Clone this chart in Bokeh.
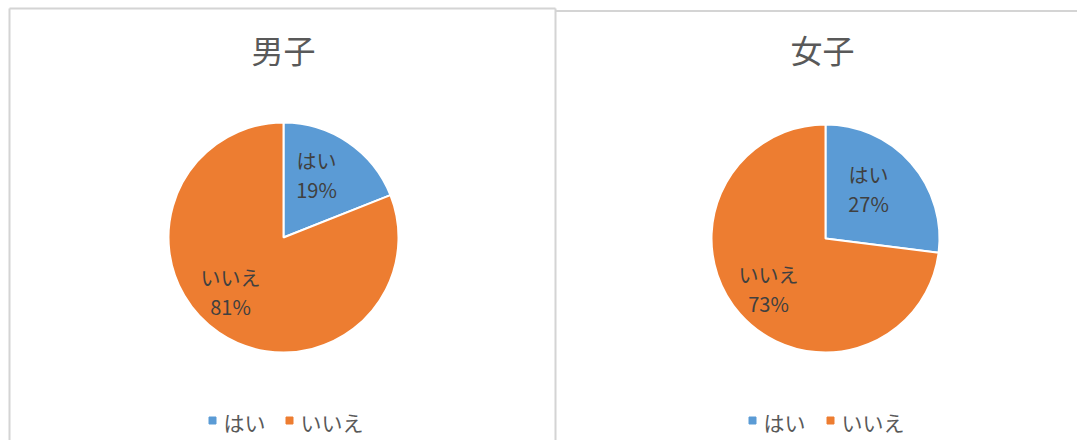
import math
from bokeh.plotting import figure
from bokeh.models import Range1d
from bokeh.core.properties import value
from bokeh.embed import file_html
from bokeh.resources import INLINE

# ---- data ----
groups = ["男子", "女子"]
categories = ["はい", "いいえ"]
male_pct = [19, 81]
female_pct = [27, 73]
colors = ["#5B9BD5", "#ED7D31"]

# ---- layout (picture pixel coordinates) ----
W, H = 1077, 440
FONT = value("Noto Sans CJK JP")


def px(X):
    return X


def py(Y):
    return H - Y


panels = [
    dict(title=groups[0], vals=male_pct, cx=283, cy=237, r=115, title_x=283,
         label_off=[(33, -63), (-53, 54)], leg_x=[212, 289]),
    dict(title=groups[1], vals=female_pct, cx=825, cy=238, r=114, title_x=822,
         label_off=[(43, -50), (-57, 50)], leg_x=[752, 830]),
]

p = figure(width=W, height=H, output_backend="svg", toolbar_location=None,
           x_range=Range1d(0, W), y_range=Range1d(0, H),
           x_axis_type=None, y_axis_type=None, min_border=0)
p.outline_line_color = None
p.grid.visible = False
p.background_fill_color = "white"
p.border_fill_color = "white"

# panel frames
border = "#D4D4D4"
p.segment(x0=[px(9), px(9), px(555), px(555)], y0=[py(8), py(8), py(8), py(10.5)],
          x1=[px(555), px(9), px(555), px(1090)], y1=[py(8), py(460), py(460), py(10.5)],
          line_color=border, line_width=2)

for pan in panels:
    vals = pan["vals"]
    total = float(sum(vals))
    cx, cy = px(pan["cx"]), py(pan["cy"])
    cum = 0.0
    starts, ends = [], []
    for v in vals:
        a0 = math.pi / 2 - 2 * math.pi * (cum + v) / total
        a1 = math.pi / 2 - 2 * math.pi * cum / total
        starts.append(a0)
        ends.append(a1)
        cum += v
    p.wedge(x=[cx] * len(vals), y=[cy] * len(vals), radius=pan["r"],
            start_angle=starts, end_angle=ends, direction="anticlock",
            fill_color=colors, line_color="white", line_width=2)

    # data labels
    for (dx, dy), cat, v in zip(pan["label_off"], categories, vals):
        lx = pan["cx"] + dx
        ly = pan["cy"] + dy
        p.text(x=[px(lx), px(lx)], y=[py(ly - 14.5), py(ly + 14.5)],
               text=[cat, f"{v}%"], text_font=FONT, text_font_size="20px",
               text_color="#404040", text_align="center", text_baseline="middle")

    # title
    p.text(x=[px(pan["title_x"])], y=[py(48)], text=[pan["title"]], text_font=FONT,
           text_font_size="32px", text_color="#595959", text_align="center",
           text_baseline="middle")

    # legend
    for lx, cat, col in zip(pan["leg_x"], categories, colors):
        p.scatter(x=[px(lx)], y=[py(420)], marker="square", size=7,
                  fill_color=col, line_color=col)
        p.text(x=[px(lx + 11)], y=[py(421)], text=[cat], text_font=FONT,
               text_font_size="21px", text_color="#595959", text_align="left",
               text_baseline="middle")

open("out.html", "w").write(file_html(p, INLINE))
